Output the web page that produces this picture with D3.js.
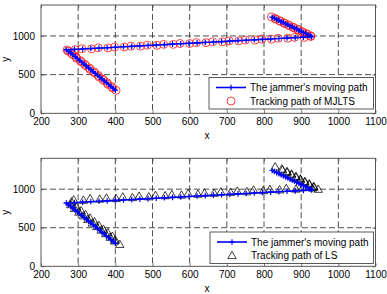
<!DOCTYPE html>
<html><head><meta charset="utf-8">
<script src="https://cdn.jsdelivr.net/npm/d3@7"></script>
<style>
html,body{margin:0;padding:0;background:#fff;}
svg{display:block;font-family:"Liberation Sans",Arial,sans-serif;}
</style></head>
<body><svg id="chart" width="387" height="294"></svg>
<script>
// ---------- data ----------
const xTicks = [200,300,400,500,600,700,800,900,1000,1100];
const yTicks = [0,500,1000];
const legendTop = ["The jammer's moving path","Tracking path of MJLTS"];
const legendBottom = ["The jammer's moving path","Tracking path of LS"];

// jammer's moving path
const jx = [400,394,388,382,376,370,364,358,352,346,340,334,328,322,316,310,304,298,292,286,280,274,268,
  290,312,334,356,378,400,422,444,466,488,510,532,554,576,598,620,642,664,686,708,730,752,774,796,818,840,862,884,906,928,
  924,918,912,906,900,894,888,882,876,870,864,858,852,846,840,834,828,822];
const jy = [300,324,348,372,396,420,444,468,492,516,540,564,588,612,636,660,684,708,732,756,780,800,820,
  826,831,837,843,848,854,860,865,871,877,882,888,894,899,905,911,916,922,927,933,939,944,950,956,961,967,973,978,984,990,
  1004,1018,1032,1046,1060,1074,1088,1102,1116,1130,1144,1158,1172,1186,1200,1214,1228,1242];

// tracking path of MJLTS
const mx = [402,393,390,380,378,369,366,356,354,345,342,332,330,320,318,309,306,296,294,285,282,273,270,
  292,310,336,354,380,398,424,442,468,486,512,530,556,574,600,618,644,662,688,706,732,750,776,794,820,838,864,882,908,926,
  926,916,914,904,902,892,890,880,878,868,866,856,854,844,842,832,830,820];
const my = [296,326,345,375,394,423,441,471,489,519,537,567,585,615,633,663,681,711,729,759,777,803,818,
  822,834,833,846,845,857,857,868,868,880,879,891,891,902,902,914,913,925,924,936,936,947,947,959,958,970,970,981,981,993,
  1000,1021,1029,1049,1057,1077,1085,1105,1113,1133,1141,1161,1169,1189,1197,1217,1225,1246];

// tracking path of LS
const lx = [412,398,400,386,392,374,380,362,368,350,356,338,344,326,332,314,320,302,308,290,296,280,282,
  288,314,332,358,376,402,420,446,464,490,508,534,552,578,596,622,640,666,684,710,728,754,772,798,816,842,860,886,904,930,
  946,934,934,922,922,910,910,898,898,886,886,874,874,862,862,850,848,830];
const ly = [285,330,340,378,390,424,436,470,482,516,530,562,578,610,626,656,672,704,720,752,768,800,836,
  862,858,878,872,886,880,900,892,910,902,920,916,930,924,944,936,950,948,966,960,974,968,990,982,998,992,1010,1002,1020,1016,
  1000,1026,1036,1058,1070,1090,1102,1122,1134,1154,1166,1186,1198,1218,1230,1250,1262,1290];

// ---------- drawing ----------
const svg = d3.select("#chart");
const X0 = 41, X1 = 375.5;
const jam = jx.map((v,i)=>[v, jy[i]]);
const mj = mx.map((v,i)=>[v, my[i]]);
const ls = lx.map((v,i)=>[v, ly[i]]);

function panel(top, bottom, track, kind, legendLabels, leg) {
  const x = d3.scaleLinear().domain([200,1100]).range([X0,X1]);
  const y = d3.scaleLinear().domain([0,1400]).range([bottom,top]);
  const g = svg.append("g");

  // grid
  g.selectAll(".gx").data(xTicks.slice(1,-1)).enter().append("line")
    .attr("x1",d=>x(d)).attr("x2",d=>x(d)).attr("y1",top).attr("y2",bottom)
    .attr("stroke","#222").attr("stroke-width",0.8).attr("stroke-dasharray","6,3");
  g.selectAll(".gy").data(yTicks.slice(1)).enter().append("line")
    .attr("x1",X0).attr("x2",X1).attr("y1",d=>y(d)).attr("y2",d=>y(d))
    .attr("stroke","#222").attr("stroke-width",0.8).attr("stroke-dasharray","6,3");

  // axes (ticks inside)
  const ax = g.append("g").attr("transform",`translate(0,${bottom})`)
    .call(d3.axisBottom(x).tickValues(xTicks).tickSize(-3).tickPadding(5).tickFormat(d3.format("d")));
  const axT = g.append("g").attr("transform",`translate(0,${top})`)
    .call(d3.axisTop(x).tickValues(xTicks).tickSize(-3).tickFormat(""));
  const ay = g.append("g").attr("transform",`translate(${X0},0)`)
    .call(d3.axisLeft(y).tickValues(yTicks).tickSize(-3).tickPadding(6).tickFormat(d3.format("d")));
  const ayR = g.append("g").attr("transform",`translate(${X1},0)`)
    .call(d3.axisRight(y).tickValues(yTicks).tickSize(-3).tickFormat(""));
  [ax,axT,ay,ayR].forEach(a=>{
    a.select(".domain").remove();
    a.selectAll(".tick line").attr("stroke","#444").attr("stroke-width",0.7);
    a.selectAll("text").attr("font-size","10px").attr("fill","#000")
      .attr("font-family","'Liberation Sans',Arial,sans-serif");
  });
  g.append("rect").attr("x",X0).attr("y",top).attr("width",X1-X0).attr("height",bottom-top)
    .attr("fill","none").attr("stroke","#444").attr("stroke-width",0.9);

  // tracking markers
  drawTrack(g, track.map(d=>[x(d[0]),y(d[1])]), kind);

  // jammer line + plus markers
  const line = d3.line().x(d=>x(d[0])).y(d=>y(d[1]));
  g.append("path").datum(jam).attr("d",line).attr("fill","none")
    .attr("stroke","#0000ff").attr("stroke-width",1.6);
  drawPlus(g, jam.map(d=>[x(d[0]),y(d[1])]));

  // axis labels
  g.append("text").attr("x",207).attr("y",bottom+26).attr("text-anchor","middle")
    .attr("font-size","10px").text("x");
  g.append("text").attr("transform",`translate(9,${(top+bottom)/2}) rotate(-90)`)
    .attr("text-anchor","middle").attr("font-size","10px").text("y");

  // legend
  const L = g.append("g");
  L.append("rect").attr("x",leg.x).attr("y",leg.y).attr("width",leg.w).attr("height",leg.h)
    .attr("fill","#fff").attr("stroke","#333").attr("stroke-width",0.8);
  const r1 = leg.y + 10, r2 = leg.y + 23.5;
  L.append("line").attr("x1",leg.x+7).attr("x2",leg.x+37).attr("y1",r1).attr("y2",r1)
    .attr("stroke","#0000ff").attr("stroke-width",1.6);
  drawPlus(L, [[leg.x+22, r1]]);
  drawTrack(L, [[leg.x+22, r2]], kind);
  L.append("text").attr("x",leg.x+41).attr("y",r1+3.5).attr("font-size","10px").text(legendLabels[0]);
  L.append("text").attr("x",leg.x+41).attr("y",r2+3.5).attr("font-size","10px").text(legendLabels[1]);
}

function drawPlus(g, pts) {
  const s = 2.8;
  g.append("g").selectAll("path").data(pts).enter().append("path")
    .attr("d",d=>`M${d[0]-s},${d[1]}H${d[0]+s}M${d[0]},${d[1]-s}V${d[1]+s}`)
    .attr("stroke","#0000ff").attr("stroke-width",1.2).attr("fill","none");
}
function drawTrack(g, pts, kind) {
  if (kind === "circle") {
    g.append("g").selectAll("circle").data(pts).enter().append("circle")
      .attr("cx",d=>d[0]).attr("cy",d=>d[1]).attr("r",4)
      .attr("fill","none").attr("stroke","#ff2020").attr("stroke-width",0.85);
  } else {
    const h = 4.2;
    g.append("g").selectAll("path").data(pts).enter().append("path")
      .attr("d",d=>`M${d[0]},${d[1]-h}L${d[0]+h},${d[1]+h*0.75}L${d[0]-h},${d[1]+h*0.75}Z`)
      .attr("fill","none").attr("stroke","#000").attr("stroke-width",0.75);
  }
}

panel(5, 113.3, mj, "circle", legendTop, {x:209, y:77.5, w:164.5, h:31.5});
panel(158.3, 266.3, ls, "tri", legendBottom, {x:210, y:232, w:163.5, h:31.5});
</script>
</body></html>
